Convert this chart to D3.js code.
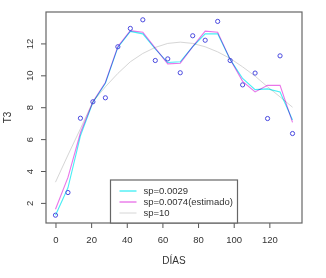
<!DOCTYPE html>
<html>
<head>
<meta charset="utf-8">
<script src="https://cdn.jsdelivr.net/npm/d3@7"></script>
<style>
  body { margin: 0; background: #fff; }
  svg { font-family: "Liberation Sans", Arial, sans-serif; }
</style>
</head>
<body>
<svg id="chart" width="326" height="278"></svg>
<script>
// days
const dias = [0, 7, 14, 21, 28, 35, 42, 49, 56, 63, 70, 77, 84, 91, 98, 105, 112, 119, 126, 133]
// observed T3
const t3 = [1.23, 2.65, 7.31, 8.34, 8.59, 11.79, 12.94, 13.48, 10.93, 11.03,
  10.16, 12.48, 12.2, 13.38, 10.93, 9.4, 10.14, 7.29, 11.22, 6.35]
// fitted curves
const fitSp0029 = [1.23, 2.95, 6.2, 8.3, 9.5, 11.75, 12.75, 12.6, 11.65, 10.8,
  10.85, 11.8, 12.6, 12.6, 11.0, 9.8, 9.1, 9.15, 8.95, 7.2]
const fitSp0074 = [1.6, 3.6, 6.4, 8.34, 9.55, 11.8, 12.8, 12.7, 11.7, 10.72,
  10.76, 11.8, 12.77, 12.7, 11.0, 9.62, 8.96, 9.37, 9.37, 7.05]
const fitSp10 = [3.3, 5.0, 6.65, 8.35, 9.28, 10.12, 10.85, 11.37, 11.75, 12.0,
  12.08, 12.0, 11.79, 11.47, 11.06, 10.53, 9.95, 9.28, 8.65, 8.0]

const xTicks = [0, 20, 40, 60, 80, 100, 120]
const yTicks = [2, 4, 6, 8, 10, 12]
const legendLabels = ['sp=0.0029', 'sp=0.0074(estimado)', 'sp=10']
const legendColors = ['#00e8f0', '#e040e0', '#d6d6d6']

const svg = d3.select('#chart')
const plot = { left: 46, right: 302, top: 12, bottom: 223 }

// R style 4% axis extension
const xExt = d3.extent(dias)
const yExt = d3.extent(t3)
const xPad = (xExt[1] - xExt[0]) * 0.04
const yPad = (yExt[1] - yExt[0]) * 0.04

const x = d3.scaleLinear()
  .domain([xExt[0] - xPad, xExt[1] + xPad])
  .range([plot.left, plot.right])
const y = d3.scaleLinear()
  .domain([yExt[0] - yPad, yExt[1] + yPad])
  .range([plot.bottom, plot.top])

const axisCol = '#555'

// x axis
const xAxis = svg.append('g')
  .attr('transform', `translate(0,${plot.bottom})`)
  .call(d3.axisBottom(x).tickValues(xTicks).tickSize(5).tickPadding(8).tickSizeOuter(0))
xAxis.select('.domain').remove()
xAxis.selectAll('line').attr('stroke', axisCol)
xAxis.selectAll('text').attr('fill', '#333').style('font-size', '9.5px')
  .style('font-family', '"Liberation Sans", Arial, sans-serif')

// y axis
const yAxis = svg.append('g')
  .attr('transform', `translate(${plot.left},0)`)
  .call(d3.axisLeft(y).tickValues(yTicks).tickSize(5).tickSizeOuter(0))
yAxis.select('.domain').remove()
yAxis.selectAll('line').attr('stroke', axisCol)
yAxis.selectAll('text')
  .attr('x', null).attr('dy', null)
  .attr('transform', (d) => `translate(-13,0) rotate(-90)`)
  .attr('text-anchor', 'middle')
  .attr('dy', '0.05em')
  .attr('fill', '#333')
  .style('font-size', '9.5px')
  .style('font-family', '"Liberation Sans", Arial, sans-serif')

// box
svg.append('rect')
  .attr('x', plot.left).attr('y', plot.top)
  .attr('width', plot.right - plot.left)
  .attr('height', plot.bottom - plot.top)
  .attr('fill', 'none')
  .attr('stroke', '#666')
  .attr('stroke-width', 1.2)

// axis titles
svg.append('text')
  .attr('x', (plot.left + plot.right) / 2)
  .attr('y', 264)
  .attr('text-anchor', 'middle')
  .attr('fill', '#333')
  .style('font-size', '10px')
  .text('DÍAS')

svg.append('text')
  .attr('transform', `translate(11,${(plot.top + plot.bottom) / 2}) rotate(-90)`)
  .attr('text-anchor', 'middle')
  .attr('fill', '#333')
  .style('font-size', '10px')
  .text('T3')

// curves
const line = (vals) => d3.line()
  .x((d, i) => x(dias[i]))
  .y((d) => y(d))(vals)

const curves = svg.append('g')
curves.append('path')
  .attr('d', line(fitSp10))
  .attr('fill', 'none')
  .attr('stroke', legendColors[2])
  .attr('stroke-width', 1)

// multiply so the overlap of cyan and magenta reads blue-violet
curves.selectAll('path.fit')
  .data([fitSp0029, fitSp0074])
  .join('path')
  .attr('class', 'fit')
  .attr('d', (d) => line(d))
  .attr('fill', 'none')
  .attr('stroke', (d, i) => legendColors[i])
  .attr('stroke-opacity', 0.72)
  .attr('stroke-width', 1.1)
  .style('mix-blend-mode', 'multiply')

// points
svg.append('g')
  .selectAll('circle')
  .data(t3)
  .join('circle')
  .attr('cx', (d, i) => x(dias[i]))
  .attr('cy', (d) => y(d))
  .attr('r', 2.1)
  .attr('fill', 'none')
  .attr('stroke', '#4a4ae0')
  .attr('stroke-width', 1)

// legend
const leg = svg.append('g').attr('transform', 'translate(110.5,180)')
leg.append('rect')
  .attr('width', 127)
  .attr('height', 43)
  .attr('fill', '#fff')
  .attr('stroke', '#666')
  .attr('stroke-width', 1.2)

const rows = leg.selectAll('g.row')
  .data(legendLabels)
  .join('g')
  .attr('class', 'row')
  .attr('transform', (d, i) => `translate(0,${11 + i * 11})`)

rows.append('line')
  .attr('x1', 9).attr('x2', 26)
  .attr('stroke', (d, i) => legendColors[i])
  .attr('stroke-width', 1)

rows.append('text')
  .attr('x', 33)
  .attr('dy', '0.35em')
  .attr('fill', '#333')
  .style('font-size', '9.5px')
  .text((d) => d)
</script>
</body>
</html>
